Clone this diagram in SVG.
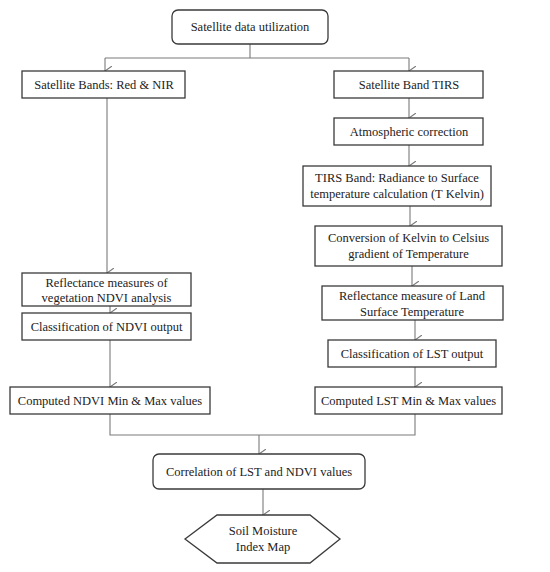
<svg xmlns="http://www.w3.org/2000/svg" width="550" height="572" viewBox="0 0 550 572">
<style>
.box{fill:#fff;stroke:#3a3a3a;stroke-width:1.3}
.t{font-family:"Liberation Serif","Times New Roman",serif;font-size:12.5px;fill:#222;text-anchor:middle}
.c{fill:none;stroke:#7a7a7a;stroke-width:1.1}
</style>
<defs>
<marker id="arr" markerUnits="userSpaceOnUse" markerWidth="12" markerHeight="10" refX="5" refY="7" orient="auto-start-reverse" viewBox="0 0 12 10">
<path d="M0,0 L5,7 L10,0" fill="none" stroke="#7a7a7a" stroke-width="1.1"/>
</marker>
</defs>
<rect width="550" height="572" fill="#fff"/>
<g id="connectors">
<path class="c" d="M250,44 V58 M105,58 H409"/>
<path class="c" d="M105,58 V71" marker-end="url(#arr)"/>
<path class="c" d="M409,58 V71" marker-end="url(#arr)"/>
<path class="c" d="M107,98 V273" marker-end="url(#arr)"/>
<path class="c" d="M110,306 V313" marker-end="url(#arr)"/>
<path class="c" d="M110,340 V387" marker-end="url(#arr)"/>
<path class="c" d="M409,98 V118" marker-end="url(#arr)"/>
<path class="c" d="M409,145 V166" marker-end="url(#arr)"/>
<path class="c" d="M410,206 V226" marker-end="url(#arr)"/>
<path class="c" d="M412,266 V286" marker-end="url(#arr)"/>
<path class="c" d="M415,320 V340" marker-end="url(#arr)"/>
<path class="c" d="M415,367 V387" marker-end="url(#arr)"/>
<path class="c" d="M110,414 V435 H415 V414"/>
<path class="c" d="M259,435 V454" marker-end="url(#arr)"/>
<path class="c" d="M263,489 V515" marker-end="url(#arr)"/>
</g>
<g id="n1"><rect class="box" x="172" y="10" width="156" height="34" rx="6"/><text class="t" x="250" y="31">Satellite  data utilization</text></g>
<g id="n2"><rect class="box" x="22" y="71" width="163" height="27"/><text class="t" x="104" y="89">Satellite  Bands: Red &amp; NIR</text></g>
<g id="n3"><rect class="box" x="334" y="71" width="149" height="27"/><text class="t" x="409" y="89">Satellite  Band TIRS</text></g>
<g id="n4"><rect class="box" x="334" y="118" width="149" height="27"/><text class="t" x="409" y="136">Atmospheric correction</text></g>
<g id="n5"><rect class="box" x="303" y="166" width="188" height="40"/><text class="t" x="397" y="182">TIRS Band: Radiance to Surface</text><text class="t" x="397" y="198">temperature calculation (T Kelvin)</text></g>
<g id="n6"><rect class="box" x="315" y="226" width="187" height="40"/><text class="t" x="408.5" y="242">Conversion of Kelvin to Celsius</text><text class="t" x="408.5" y="258">gradient of Temperature</text></g>
<g id="n7"><rect class="box" x="322" y="286" width="181" height="34"/><text class="t" x="412" y="300">Reflectance measure of Land</text><text class="t" x="412" y="316">Surface Temperature</text></g>
<g id="n8"><rect class="box" x="328" y="340" width="168" height="27"/><text class="t" x="412" y="358">Classification  of LST output</text></g>
<g id="n9"><rect class="box" x="315" y="387" width="187" height="27"/><text class="t" x="408.5" y="405">Computed LST Min &amp; Max values</text></g>
<g id="n10"><rect class="box" x="22" y="273" width="169" height="33"/><text class="t" x="106.5" y="287">Reflectance measures of</text><text class="t" x="106.5" y="302">vegetation NDVI analysis</text></g>
<g id="n11"><rect class="box" x="22" y="313" width="169" height="27"/><text class="t" x="106.5" y="331">Classification  of NDVI output</text></g>
<g id="n12"><rect class="box" x="10" y="387" width="200" height="27"/><text class="t" x="110" y="405">Computed NDVI Min &amp; Max values</text></g>
<g id="n13"><rect class="box" x="153" y="454" width="212" height="35" rx="6"/><text class="t" x="259" y="476">Correlation of LST and NDVI values</text></g>
<g id="n14"><polygon class="box" points="185,539 217,515 310,515 340,539 310,563 217,563"/><text class="t" x="263" y="535">Soil Moisture</text><text class="t" x="263" y="551">Index Map</text></g>
</svg>
